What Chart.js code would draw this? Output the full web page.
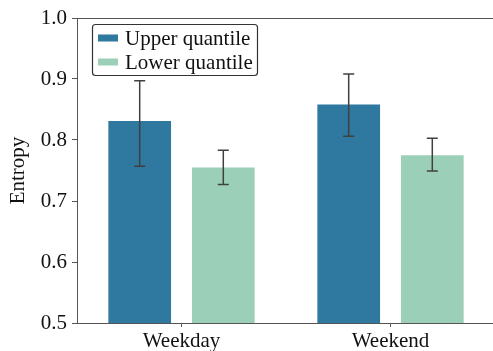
<!DOCTYPE html>
<html>
<head>
<meta charset="utf-8">
<script src="https://cdn.jsdelivr.net/npm/chart.js@4/dist/chart.umd.min.js"></script>
<style>
  html, body { margin: 0; padding: 0; background: #fff; overflow: hidden; }
  #wrap { width: 497px; height: 351px; position: relative; }
</style>
</head>
<body>
<div id="wrap"><canvas id="entropyChart"></canvas></div>
<script>
// data
const categories = ['Weekday', 'Weekend'];
const upperValues = [0.831, 0.858];
const upperErrLow = [0.757, 0.806];
const upperErrHigh = [0.897, 0.908];
const lowerValues = [0.755, 0.775];
const lowerErrLow = [0.727, 0.749];
const lowerErrHigh = [0.783, 0.803];
const yTicks = [0.5, 0.6, 0.7, 0.8, 0.9, 1.0];

const serif = "'Liberation Serif', 'DejaVu Serif', serif";

// error bars drawn through the y scale
const errorBars = {
    id: 'errorBars',
    afterDatasetsDraw(chart) {
        const ctx = chart.ctx;
        const y = chart.scales.y;
        chart.data.datasets.forEach((ds, i) => {
            const meta = chart.getDatasetMeta(i);
            meta.data.forEach((bar, j) => {
                const top = y.getPixelForValue(ds.errHigh[j]);
                const bot = y.getPixelForValue(ds.errLow[j]);
                const cap = 5.5;
                ctx.save();
                ctx.strokeStyle = '#404040';
                ctx.lineWidth = 1.5;
                ctx.beginPath();
                ctx.moveTo(bar.x, top); ctx.lineTo(bar.x, bot);
                ctx.moveTo(bar.x - cap, top); ctx.lineTo(bar.x + cap, top);
                ctx.moveTo(bar.x - cap, bot); ctx.lineTo(bar.x + cap, bot);
                ctx.stroke();
                ctx.restore();
            });
        });
    }
};

// top spine + boxed legend in the upper-left corner
const frameAndLegend = {
    id: 'frameAndLegend',
    afterDraw(chart) {
        const ctx = chart.ctx;
        const a = chart.chartArea;
        ctx.save();
        ctx.strokeStyle = '#555';
        ctx.lineWidth = 1;
        ctx.beginPath();
        ctx.moveTo(a.left, a.top + 0.5); ctx.lineTo(a.right, a.top + 0.5);
        ctx.moveTo(a.right - 0.5, a.top); ctx.lineTo(a.right - 0.5, a.bottom);
        ctx.stroke();

        const bx = a.left + 15, by = a.top + 6, bw = 165, bh = 51;
        ctx.fillStyle = 'rgba(255,255,255,0.8)';
        ctx.strokeStyle = '#333';
        ctx.lineWidth = 1.2;
        ctx.beginPath();
        ctx.roundRect(bx + 0.5, by + 0.5, bw, bh, 3);
        ctx.fill();
        ctx.stroke();

        ctx.font = '21px ' + serif;
        ctx.textBaseline = 'middle';
        chart.data.datasets.forEach((ds, i) => {
            const cy = by + 14 + i * 24;
            ctx.fillStyle = ds.backgroundColor;
            ctx.fillRect(bx + 6, cy - 3.5, 20, 7);
            ctx.fillStyle = '#111';
            ctx.fillText(ds.label, bx + 33, cy + 1);
        });
        ctx.restore();
    }
};

const ctx = document.getElementById('entropyChart').getContext('2d');
const entropyChart = new Chart(ctx, {
    type: 'bar',
    data: {
        labels: categories,
        datasets: [
            {
                label: 'Upper quantile',
                data: upperValues,
                errLow: upperErrLow,
                errHigh: upperErrHigh,
                backgroundColor: '#2f78a0'
            },
            {
                label: 'Lower quantile',
                data: lowerValues,
                errLow: lowerErrLow,
                errHigh: lowerErrHigh,
                backgroundColor: '#9ccfb7'
            }
        ]
    },
    options: {
        responsive: true,
        maintainAspectRatio: false,
        animation: false,
        categoryPercentage: 0.8,
        barPercentage: 0.75,
        layout: { padding: { top: 18, right: 2, left: 0, bottom: 0 } },
        plugins: {
            legend: { display: false },
            tooltip: { enabled: false }
        },
        scales: {
            x: {
                grid: { offset: false, drawOnChartArea: false, drawTicks: true, tickLength: 4, color: '#555' },
                border: { color: '#555', width: 1 },
                ticks: { color: '#111', font: { family: serif, size: 21 }, padding: 2 },
                afterFit(scale) { scale.height = 28; }
            },
            y: {
                min: 0.5,
                max: 1.0,
                afterBuildTicks(scale) { scale.ticks = yTicks.map(v => ({ value: v })); },
                grid: { drawOnChartArea: false, drawTicks: true, tickLength: 5, color: '#555' },
                border: { color: '#555', width: 1 },
                ticks: {
                    color: '#111',
                    font: { family: serif, size: 21 },
                    padding: 5,
                    callback: v => v.toFixed(1)
                },
                title: {
                    display: true,
                    text: 'Entropy',
                    color: '#111',
                    font: { family: serif, size: 21 },
                    padding: { top: 6, bottom: 0 }
                },
                afterFit(scale) { scale.width = 77; }
            }
        }
    },
    plugins: [errorBars, frameAndLegend]
});
</script>
</body>
</html>
